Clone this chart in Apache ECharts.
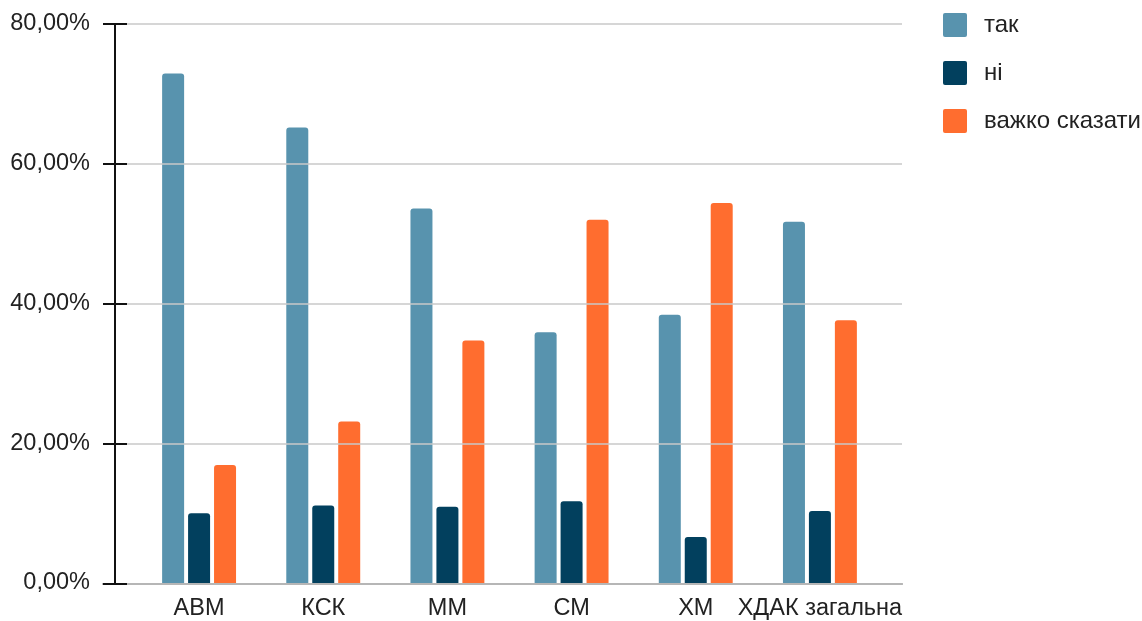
<!DOCTYPE html>
<html>
<head>
<meta charset="utf-8">
<script src="https://cdn.jsdelivr.net/npm/echarts@6/dist/echarts.min.js"></script>
<style>html,body{margin:0;padding:0;background:#fff;}#c{width:1142px;height:621px;}</style>
</head>
<body>
<div id="c"></div>
<script>
const categories = ['АВМ', 'КСК', 'ММ', 'СМ', 'ХМ', 'ХДАК загальна'];
const seriesNames = ['так', 'ні', 'важко сказати'];
const takValues = [72.9, 65.2, 53.6, 35.9, 38.4, 51.7];
const niValues = [10.0, 11.1, 10.9, 11.7, 6.6, 10.3];
const vazhkoValues = [16.9, 23.1, 34.7, 52.0, 54.4, 37.6];
const yTicks = { min: 0, max: 80, interval: 20 };
const colors = ['#5893AE', '#02405E', '#FF6D2F'];

const font = '"Liberation Sans", Arial, sans-serif';
const chart = echarts.init(document.getElementById('c'), null, { renderer: 'canvas' });
const fmt = v => v.toFixed(2).replace('.', ',') + '%';
const squareIcon = 'path://M2,0 H22 A2,2 0 0 1 24,2 V22 A2,2 0 0 1 22,24 H2 A2,2 0 0 1 0,22 V2 A2,2 0 0 1 2,0 Z';

const mkBar = (name, data, color) => ({
  name, type: 'bar', data, xAxisIndex: 1, yAxisIndex: 1,
  barWidth: 22, barGap: '18%',
  itemStyle: { color, borderRadius: [3, 3, 0, 0] },
  z: 3
});

chart.setOption({
  animation: false,
  backgroundColor: '#fff',
  textStyle: { fontFamily: font },
  legend: {
    orient: 'vertical', left: 943, top: 13, padding: 0,
    itemWidth: 24, itemHeight: 24, itemGap: 24, icon: squareIcon,
    data: seriesNames,
    textStyle: { fontSize: 24, color: '#222', fontFamily: font, padding: [0, 0, 0, 12] }
  },
  grid: [
    { left: 103, right: 240, top: 24, bottom: 37 },
    { left: 137, right: 260, top: 24, bottom: 37 }
  ],
  xAxis: [
    { type: 'value', gridIndex: 0, min: 0, max: 1,
      axisLine: { show: true, lineStyle: { color: '#555', width: 1.5 } },
      axisTick: { show: false }, axisLabel: { show: false }, splitLine: { show: false }, z: 2 },
    { type: 'category', gridIndex: 1, data: categories,
      axisLine: { show: false }, axisTick: { show: false },
      axisLabel: { fontSize: 23.5, color: '#222', margin: 14, fontFamily: font, interval: 0 } }
  ],
  yAxis: [
    { type: 'value', gridIndex: 0, min: yTicks.min, max: yTicks.max, interval: yTicks.interval,
      axisLine: { show: false },
      axisTick: { show: true, inside: true, length: 24, lineStyle: { color: '#111', width: 2 } },
      axisLabel: { show: false },
      splitLine: { show: true, lineStyle: { color: '#c8c8c8', width: 1.5 } }, z: 4 },
    { type: 'value', gridIndex: 1, min: yTicks.min, max: yTicks.max, interval: yTicks.interval,
      position: 'left', offset: 22,
      axisLine: { show: true, lineStyle: { color: '#111', width: 2 } },
      axisTick: { show: false },
      axisLabel: { fontSize: 23.5, color: '#222', margin: 25, fontFamily: font, formatter: fmt },
      splitLine: { show: false }, z: 5 }
  ],
  series: [
    mkBar(seriesNames[0], takValues, colors[0]),
    mkBar(seriesNames[1], niValues, colors[1]),
    mkBar(seriesNames[2], vazhkoValues, colors[2])
  ]
});
</script>
</body>
</html>
